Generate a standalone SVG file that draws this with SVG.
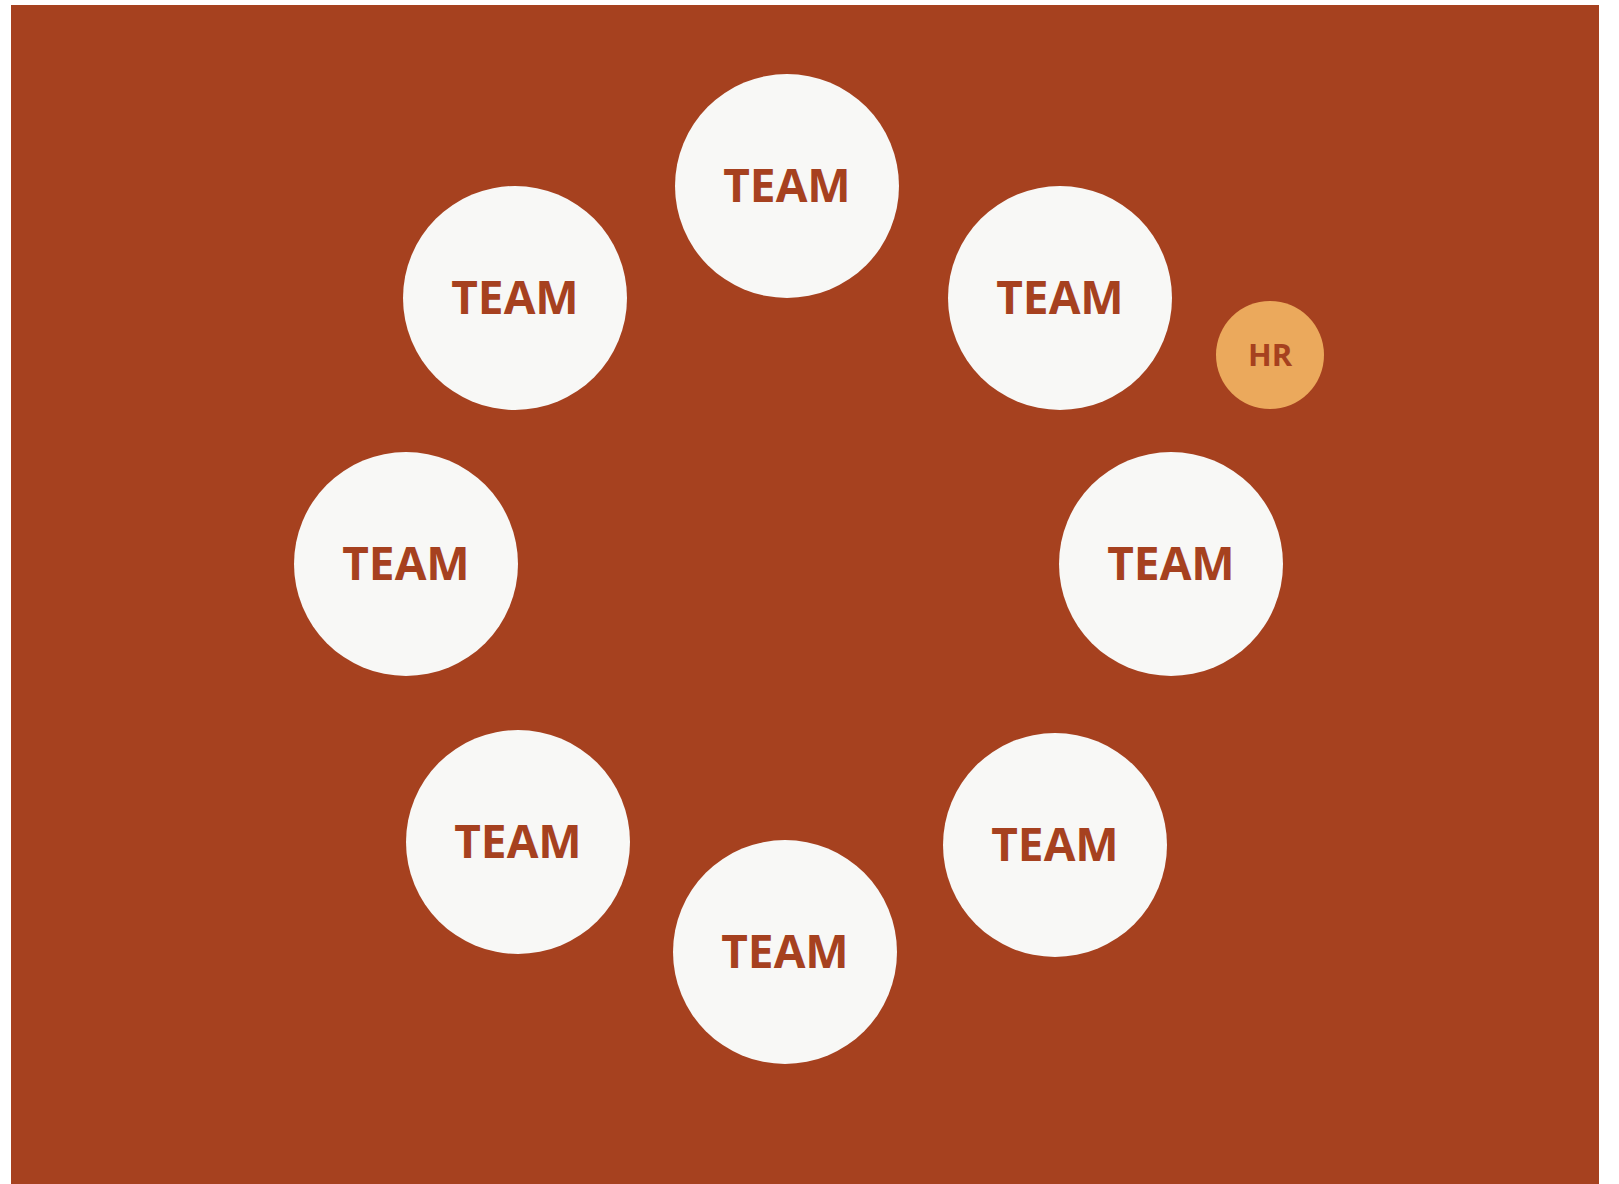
<svg xmlns="http://www.w3.org/2000/svg" width="1619" height="1184" viewBox="0 0 1619 1184">
<style>
.team{fill:#F8F8F6}
.lbl{font-family:"Open Sans","Liberation Sans",Arial,sans-serif;font-weight:700;fill:#A6411F;text-anchor:middle}
.t{font-size:46px}
.hr{fill:#EBA95C}
.h{font-size:31px}
</style>
<rect x="0" y="0" width="1619" height="1184" fill="#ffffff"/>
<rect x="11" y="5" width="1588" height="1179" fill="#A6411F"/>
<g id="team-top"><circle class="team" cx="787" cy="186" r="112"/><text class="lbl t" x="787" y="202">TEAM</text></g>
<g id="team-upper-right"><circle class="team" cx="1060" cy="298" r="112"/><text class="lbl t" x="1060" y="314">TEAM</text></g>
<g id="team-upper-left"><circle class="team" cx="515" cy="298" r="112"/><text class="lbl t" x="515" y="314">TEAM</text></g>
<g id="team-left"><circle class="team" cx="406" cy="564" r="112"/><text class="lbl t" x="406" y="580">TEAM</text></g>
<g id="team-right"><circle class="team" cx="1171" cy="564" r="112"/><text class="lbl t" x="1171" y="580">TEAM</text></g>
<g id="team-lower-left"><circle class="team" cx="518" cy="842" r="112"/><text class="lbl t" x="518" y="858">TEAM</text></g>
<g id="team-lower-right"><circle class="team" cx="1055" cy="845" r="112"/><text class="lbl t" x="1055" y="861">TEAM</text></g>
<g id="team-bottom"><circle class="team" cx="785" cy="952" r="112"/><text class="lbl t" x="785" y="968">TEAM</text></g>
<g id="hr"><circle class="hr" cx="1270" cy="355" r="54"/><text class="lbl h" x="1270" y="366">HR</text></g>
<g id="connectors"></g>
</svg>
